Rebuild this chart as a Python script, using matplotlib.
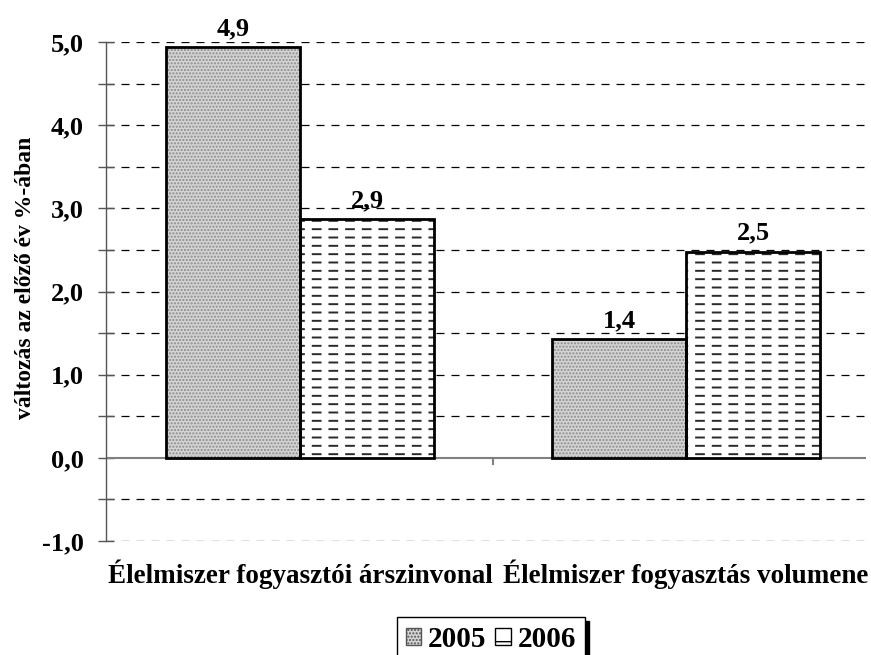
import matplotlib
matplotlib.use("Agg")
import matplotlib.pyplot as plt
import matplotlib.patches as mpatches
import numpy as np

categories = ["Élelmiszer fogyasztói árszinvonal", "Élelmiszer fogyasztás volumene"]
series_names = ["2005", "2006"]
values_2005 = [4.94, 1.43]
values_2006 = [2.87, 2.48]
yticks_major = [-1.0, 0.0, 1.0, 2.0, 3.0, 4.0, 5.0]
ylabel = "változás az előző év %-ában"

plt.rcParams['font.family'] = ['Liberation Serif', 'DejaVu Serif']
plt.rcParams['font.weight'] = 'bold'
plt.rcParams['hatch.linewidth'] = 1.0

fig = plt.figure(figsize=(8.71, 6.55), dpi=100)
ax = fig.add_axes([106/871, 1-541/655, (866-106)/871, (541-42)/655])

x = np.arange(len(categories))
w = 0.347

# 2005 bars: fine dotted gray
ax.bar(x - w/2, values_2005, w, color='#d4d4d4', edgecolor='#8a8a8a',
       hatch='.....', linewidth=0, zorder=3)
ax.bar(x - w/2, values_2005, w, facecolor='none', edgecolor='black', linewidth=2, zorder=5)

# 2006 bars: white with dashed horizontal lines
with plt.rc_context({'hatch.linewidth': 1.4}):
    ax.bar(x + w/2, values_2006, w, color='white', edgecolor='#2a2a2a',
           hatch='--', linewidth=0, zorder=3)
with plt.rc_context({'hatch.linewidth': 5.0}):
    ax.bar(x + w/2, values_2006, w, facecolor='none', edgecolor='white',
           hatch='|', linewidth=0, zorder=4)
ax.bar(x + w/2, values_2006, w, facecolor='none', edgecolor='black', linewidth=2, zorder=5)

for xs, vals in ((x - w/2, values_2005), (x + w/2, values_2006)):
    for xi, v in zip(xs, vals):
        ax.annotate(f"{v:.1f}".replace('.', ','), (xi, v), xytext=(0, 5),
                    textcoords='offset points', ha='center', va='bottom',
                    fontsize=19, fontweight='bold')

ax.set_xlim(-0.503, 1.466)
ax.set_ylim(-1.0, 5.0)

minor = np.arange(-1.0, 5.01, 0.5)
for yv in minor:
    if abs(yv) > 1e-9:
        ax.axhline(yv, color='black', linewidth=0.9,
                   linestyle=(0, (8/0.9*0.72, 7/0.9*0.72)), zorder=1)
ax.axhline(0, color='#808080', linewidth=1.5, zorder=2)

ax.set_yticks(yticks_major)
ax.set_yticklabels([f"{t:.1f}".replace('.', ',') for t in yticks_major],
                   fontsize=19, fontweight='bold')
ax.set_yticks(minor, minor=True)
ax.tick_params(axis='y', which='both', direction='inout', length=12, width=1,
               color='#555555', pad=10)

ax.set_xticks([])
ax.plot([0.5, 0.5], [0, -0.08], color='#808080', linewidth=1.5, zorder=2)

for xi, c in zip(x, categories):
    ax.text(xi, -1.22, c, ha='center', va='top', fontsize=19.5, fontweight='bold')

for s in ['top', 'right', 'bottom']:
    ax.spines[s].set_visible(False)
ax.spines['left'].set_color('#555555')
ax.spines['left'].set_linewidth(1)

ax.set_ylabel(ylabel, fontsize=17, fontweight='bold')
ax.yaxis.set_label_coords((36-106)/760, (541-278)/499)

h1 = mpatches.Patch(facecolor='#d4d4d4', edgecolor='#555555', hatch='.....', label=series_names[0])
h2 = mpatches.Patch(facecolor='white', edgecolor='black', hatch='-', label=series_names[1])
leg = fig.legend(handles=[h1, h2], loc='upper left', bbox_to_anchor=(397/871, 1-617/655),
                 ncol=2, frameon=True, fancybox=False, edgecolor='black',
                 prop={'family': 'Liberation Serif', 'weight': 'bold', 'size': 21},
                 handlelength=0.52, handleheight=0.52, handletextpad=0.25, columnspacing=0.3,
                 borderpad=0.3, borderaxespad=0,
                 shadow={'color': 'black', 'alpha': 1, 'ox': 3, 'oy': -3})
leg.get_frame().set_linewidth(1)

fig.savefig("out.png", dpi=100)
